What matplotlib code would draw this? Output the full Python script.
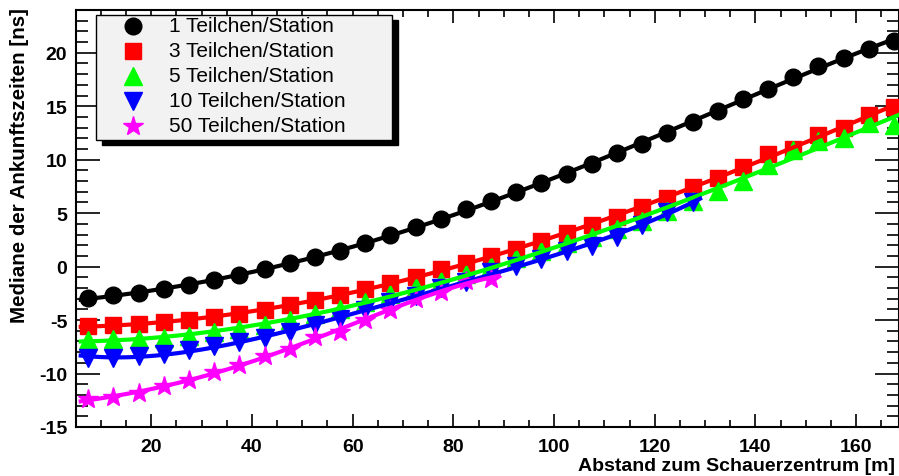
import numpy as np
import matplotlib
matplotlib.use("Agg")
import matplotlib.pyplot as plt
from matplotlib.patches import Rectangle
from matplotlib.lines import Line2D
from matplotlib.ticker import MultipleLocator

plt.rcParams['font.family'] = ['Liberation Sans', 'DejaVu Sans']
plt.rcParams['axes.unicode_minus'] = False

# === Daten ===
abstand = np.arange(7.5, 170, 5.0)   # Bin-Mitten [m]

med_1 = [-2.95, -2.7, -2.45, -2.1, -1.72, -1.25, -0.8, -0.25, 0.3, 0.87, 1.5,
         2.2, 2.95, 3.75, 4.5, 5.35, 6.15, 6.95, 7.85, 8.7, 9.6, 10.6, 11.5,
         12.45, 13.55, 14.6, 15.65, 16.6, 17.7, 18.75, 19.55, 20.35, 21.1]
med_3 = [-5.55, -5.5, -5.35, -5.2, -4.95, -4.75, -4.45, -4.1, -3.55, -3.1, -2.7,
         -2.1, -1.5, -0.95, -0.25, 0.38, 1.0, 1.65, 2.4, 3.1, 3.85, 4.6, 5.6,
         6.45, 7.4, 8.25, 9.35, 10.5, 11.0, 12.35, 13.0, 14.15, 14.95]
med_5 = [-6.85, -6.8, -6.8, -6.65, -6.45, -6.15, -5.8, -5.45, -4.95, -4.45, -4.0,
         -3.35, -2.6, -1.95, -1.3, -0.65, 0.05, 0.8, 1.5, 2.2, 2.8, 3.5, 4.3,
         5.2, 6.1, 7.1, 8.0, 9.5, 10.9, 11.75, 12.0, 13.4, 13.2]
med_10 = [-8.5, -8.5, -8.35, -8.2, -7.8, -7.4, -7.05, -6.7, -6.15, -5.5, -4.9,
          -4.1, -3.3, -2.75, -2.0, -1.4, -0.55, 0.05, 0.72, 1.5, 1.95, 2.8,
          3.85, 5.1, 6.05]
med_50 = [-12.4, -12.2, -11.8, -11.2, -10.65, -9.9, -9.2, -8.35, -7.7, -6.6,
          -6.1, -5.0, -4.1, -3.0, -2.35, -1.3, -1.2]

labels = ["1 Teilchen/Station", "3 Teilchen/Station", "5 Teilchen/Station",
          "10 Teilchen/Station", "50 Teilchen/Station"]
serien = [med_1, med_3, med_5, med_10, med_50]
farben = ['black', '#ff0000', '#00ff00', '#0000ff', '#ff00ff']
marker = ['o', 's', '^', 'v', '*']
msize = [12, 11.5, 13, 13, 15]

W, H = 899, 477
fig = plt.figure(figsize=(W / 100, H / 100), dpi=100)
ax = fig.add_axes([75.7 / W, 1 - 428 / H, (W - 75.7) / W, (428 - 11) / H])

for y, c, m, s in zip(serien, farben, marker, msize):
    y = np.array(y)
    x = abstand[:len(y)]
    ax.plot(x, y, ls='none', marker=m, ms=s, color=c, mec=c, zorder=3)
    # Fit wie im Original (Polynom 4. Grades)
    p = np.polynomial.Polynomial.fit(x, y, 4)
    xf = np.linspace(x[0] - 1.5, x[-1] + 1.5, 200)
    ax.plot(xf, p(xf), color=c, lw=3, zorder=3.5)

ax.set_xlim(5, 168.5)
ax.set_ylim(-15, 24)
ax.xaxis.set_major_locator(MultipleLocator(20))
ax.xaxis.set_minor_locator(MultipleLocator(5))
ax.yaxis.set_major_locator(MultipleLocator(5))
ax.yaxis.set_minor_locator(MultipleLocator(1))
ax.tick_params(axis='both', which='both', direction='in', top=True, right=True,
               width=1.2, labelsize=14)
ax.tick_params(axis='x', which='major', length=9.5, pad=8)
ax.tick_params(axis='x', which='minor', length=4.7)
ax.tick_params(axis='y', which='major', length=17, pad=6)
ax.tick_params(axis='y', which='minor', length=8.5)
for lab in ax.get_xticklabels() + ax.get_yticklabels():
    lab.set_fontweight('bold')
for sp in ax.spines.values():
    sp.set_linewidth(1.5)

fig.text(895 / W, 1 - 467 / H, "Abstand zum Schauerzentrum [m]", ha='right',
         va='center', fontsize=14, fontweight='bold')
fig.text(20 / W, 1 - 8 / H, "Mediane der Ankunftszeiten [ns]", rotation=90,
         ha='center', va='top', fontsize=14.8, fontweight='bold')

# === Legende (ROOT-Stil mit Schatten) ===
def fx(px):
    return px / W

def fy(py):
    return 1 - py / H

lx0, lx1, ly0, ly1 = 95.7, 391.7, 16, 141
fig.add_artist(Rectangle((fx(lx0 + 6), fy(ly1 + 4.5)), fx(lx1 - lx0), fy(ly0) - fy(ly1),
                         transform=fig.transFigure, facecolor='black',
                         edgecolor='black', zorder=5))
fig.add_artist(Rectangle((fx(lx0), fy(ly1)), fx(lx1 - lx0), fy(ly0) - fy(ly1),
                         transform=fig.transFigure, facecolor='#f2f2f2',
                         edgecolor='black', lw=1, zorder=6))
zeilen = [27, 51.5, 76.5, 101.5, 126.5]
for zy, lab, c, m, s in zip(zeilen, labels, farben, marker, msize):
    fig.add_artist(Line2D([fx(132.7)], [fy(zy)], transform=fig.transFigure,
                          marker=m, ms=s, color=c, mec=c, ls='none', zorder=7))
    fig.text(fx(169), fy(zy), lab, ha='left', va='center', fontsize=15, zorder=7)

fig.savefig("out.png", dpi=100)
